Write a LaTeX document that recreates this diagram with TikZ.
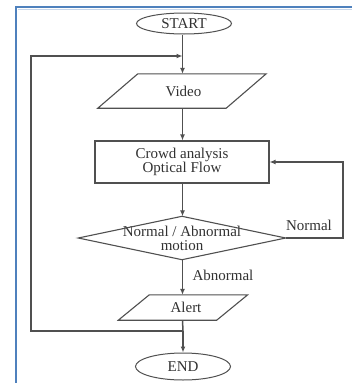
\documentclass[tikz,border=0pt]{standalone}
\usepackage{fontspec}
\setmainfont{Liberation Serif}
\usetikzlibrary{shapes.geometric,arrows.meta}
\definecolor{frameblue}{RGB}{79,129,189}
\definecolor{framelight}{RGB}{200,215,235}
\definecolor{linegray}{RGB}{80,80,80}
\definecolor{textgray}{RGB}{50,50,50}
\tikzset{
  conn/.style={draw=linegray, line width=1.5pt},
  arr/.style={conn, -{Latex[length=6pt,width=5pt]}},
  lbl/.style={font=\fontsize{15}{14}\selectfont, text=textgray, inner sep=0pt, align=center},
  term/.style={ellipse, draw=linegray, line width=1pt, lbl, minimum width=95pt},
  boxnode/.style={rectangle, lbl},
  procbox/.style={rectangle, draw=linegray, line width=1.1pt, lbl},
  shapeline/.style={draw=linegray, line width=1.1pt}
}
\begin{document}
\begin{tikzpicture}[x=1pt,y=-1pt]
\useasboundingbox (0,0) rectangle (352,383);
\fill[white] (0,0) rectangle (352,383);
% frame
\draw[framelight, line width=0.8pt] (18,9.3) -- (352,9.3);
\draw[frameblue, line width=2.2pt] (16,383) -- (16,7) -- (352,7);

% nodes
\node[term, minimum height=21pt] (start) at (184,23.5) {START};
\node[boxnode, minimum width=128pt, minimum height=34pt] (video) at (182,91) {\hspace*{3pt}Video};
\path[shapeline] ([xshift=20pt]video.north west) -- ([xshift=20pt]video.north east)
   -- ([xshift=-20pt]video.south east) -- ([xshift=-20pt]video.south west) -- cycle;
\node[procbox, minimum width=174pt, minimum height=42pt] (crowd) at (182,162) {Crowd analysis\\Optical Flow};
\node[boxnode, minimum width=207pt, minimum height=43pt] (dec) at (182,238) {Normal / Abnormal\\motion};
\path[shapeline] (dec.west) -- (dec.north) -- (dec.east) -- (dec.south) -- cycle;
\node[boxnode, minimum width=98pt, minimum height=25pt] (alert) at (183,307.5) {\hspace*{6pt}Alert};
\path[shapeline] ([xshift=15.5pt]alert.north west) -- ([xshift=15.5pt]alert.north east)
   -- ([xshift=-15.5pt]alert.south east) -- ([xshift=-15.5pt]alert.south west) -- cycle;
\node[term, minimum height=27pt] (end) at (183,366.5) {END};

% helper coordinates
\coordinate (nr1) at (343,238);
\coordinate (nr2) at (343,162);
\coordinate (jb) at (183,331);
\coordinate (lb) at (31,331);
\coordinate (lt) at (31,56);
\coordinate (jt) at (182.5,56);

% connectors
\draw[arr] (start.south -| jt) -- (video.north -| jt);
\draw[arr] (video.south -| jt) -- (crowd.north -| jt);
\draw[arr] (crowd.south -| jt) -- (dec.north -| jt);
\draw[arr] (dec.east) -- (nr1) -- (nr2) -- (crowd.east);
\draw[arr] (dec.south -| jt) -- (alert.north -| jt);
\draw[conn] (alert.south -| jt) -- (jb);
\draw[arr] (jb) -- (end.north -| jb);
\draw[arr] (jb) -- (lb) -- (lt) -- (jt);

% labels
\node[lbl] (lnormal) at (309,225.5) {Normal};
\node[lbl] (labnormal) at (223,275) {Abnormal};
\end{tikzpicture}
\end{document}
